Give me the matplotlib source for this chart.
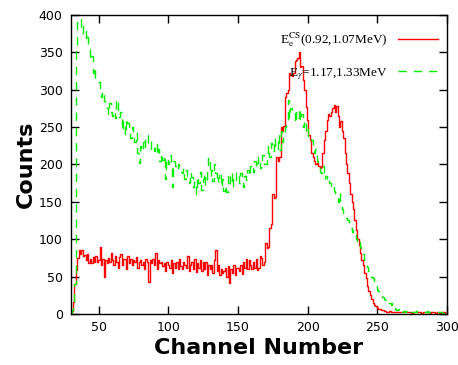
import numpy as np
import matplotlib
matplotlib.use("Agg")
import matplotlib.pyplot as plt

# ================= DATA (counts per channel, channels 30..300) =================
channels = np.arange(30, 301)

red_counts = [
    1, 4, 16, 40, 59, 75, 86, 80, 86, 78,
    79, 72, 80, 68, 74, 68, 76, 70, 78, 70,
    72, 90, 66, 74, 50, 72, 68, 75, 70, 81,
    72, 65, 78, 70, 62, 76, 80, 66, 74, 73,
    60, 78, 68, 74, 65, 72, 70, 76, 62, 70,
    72, 66, 70, 60, 74, 70, 43, 72, 68, 74,
    65, 81, 60, 72, 68, 70, 64, 68, 58, 70,
    66, 62, 72, 55, 68, 62, 70, 60, 74, 64,
    60, 70, 65, 62, 78, 58, 66, 70, 60, 74,
    56, 68, 62, 72, 58, 70, 60, 70, 52, 65,
    60, 66, 55, 72, 86, 58, 66, 52, 60, 55,
    58, 62, 50, 64, 41, 60, 55, 66, 52, 62,
    62, 58, 65, 54, 70, 62, 74, 60, 72, 65,
    60, 70, 62, 74, 59, 62, 78, 75, 65, 70,
    95, 88, 90, 115, 120, 160, 155, 157, 210, 205,
    210, 250, 245, 252, 290, 295, 300, 322, 320, 318,
    322, 338, 340, 342, 350, 330, 332, 313, 300, 277,
    260, 240, 233, 215, 210, 205, 200, 202, 198, 195,
    197, 215, 233, 245, 260, 268, 265, 270, 275, 280,
    270, 278, 265, 250, 258, 245, 235, 215, 200, 188,
    175, 160, 150, 140, 125, 112, 100, 92, 82, 72,
    65, 55, 48, 38, 30, 25, 20, 15, 12, 10,
    8, 7, 6, 5, 5, 4, 4, 3, 3, 4,
    3, 2, 3, 2, 2, 3, 2, 2, 3, 2,
    2, 2, 3, 2, 2, 1, 2, 2, 3, 2,
    2, 2, 1, 2, 2, 3, 2, 2, 1, 2,
    2, 2, 1, 2, 2, 1, 2, 2, 2, 1,
    1,
]

green_counts = [
    0, 5, 15, 40, 360, 405, 400, 395, 376, 385,
    380, 365, 370, 355, 340, 345, 322, 330, 315, 312,
    310, 300, 290, 298, 285, 278, 275, 268, 282, 270,
    265, 272, 262, 287, 268, 263, 270, 245, 258, 240,
    262, 255, 248, 235, 250, 238, 230, 242, 215, 202,
    225, 218, 230, 222, 235, 240, 228, 232, 220, 225,
    218, 229, 212, 220, 205, 215, 206, 212, 180, 208,
    200, 212, 195, 170, 205, 198, 192, 200, 197, 190,
    188, 195, 180, 192, 185, 175, 190, 183, 170, 178,
    161, 185, 175, 190, 166, 180, 188, 172, 195, 210,
    185, 193, 178, 200, 188, 175, 182, 190, 170, 180,
    165, 172, 163, 185, 175, 190, 170, 182, 178, 190,
    184, 175, 188, 180, 170, 185, 179, 192, 185, 198,
    200, 190, 205, 195, 202, 210, 195, 205, 212, 200,
    200, 215, 224, 210, 229, 218, 235, 222, 219, 240,
    219, 245, 230, 237, 250, 255, 286, 262, 275, 269,
    270, 255, 270, 262, 275, 258, 268, 250, 260, 245,
    250, 238, 240, 233, 225, 215, 220, 205, 200, 190,
    188, 198, 180, 185, 178, 180, 175, 170, 172, 165,
    162, 160, 150, 162, 145, 140, 135, 135, 128, 125,
    120, 115, 110, 112, 108, 100, 95, 98, 90, 86,
    80, 72, 68, 63, 58, 52, 50, 48, 42, 38,
    32, 30, 26, 24, 23, 20, 18, 20, 15, 15,
    12, 14, 8, 6, 5, 6, 4, 5, 3, 4,
    3, 4, 2, 3, 4, 2, 3, 2, 4, 3,
    2, 3, 2, 2, 3, 2, 4, 2, 2, 3,
    2, 2, 3, 2, 2, 3, 2, 1, 2, 3,
    2,
]

red_label = r"E$_{\rm e}^{\rm CS}$(0.92,1.07MeV)"
green_label = r"E$_{\gamma}$=1.17,1.33MeV"

x_ticks = [50, 100, 150, 200, 250, 300]
y_ticks = [0, 50, 100, 150, 200, 250, 300, 350, 400]

# ================= PLOT =================
plt.rcParams["mathtext.fontset"] = "stix"

fig = plt.figure(figsize=(4.58, 3.65), dpi=100)
ax = fig.add_axes([0.155, 0.140, 0.821, 0.819])

ax.step(channels, red_counts, where="mid", color="#ff0000", linewidth=1.0,
        label=red_label)
ax.step(channels, green_counts, where="mid", color="#00ee00", linewidth=1.0,
        linestyle=(0, (6, 5)), label=green_label)

ax.set_xlim(30, 300)
ax.set_ylim(0, 400)
ax.set_xticks(x_ticks)
ax.set_yticks(y_ticks)

ax.tick_params(direction="in", length=6, width=1, top=True, right=True,
               labelsize=9, colors="black")
ax.tick_params(axis="x", pad=5)
ax.tick_params(axis="y", pad=6)
for s in ax.spines.values():
    s.set_linewidth(1.0)

ax.set_xlabel("Channel Number", fontsize=16, fontweight="bold", labelpad=3)
ax.set_ylabel("Counts", fontsize=16, fontweight="bold", labelpad=2)

leg = ax.legend(loc="upper right", frameon=False, markerfirst=False,
                prop={"family": "Liberation Serif", "size": 9.5},
                handlelength=3.0, labelspacing=1.3, borderaxespad=0.3,
                bbox_to_anchor=(1.0, 0.98))

fig.savefig("out.png", dpi=100)
